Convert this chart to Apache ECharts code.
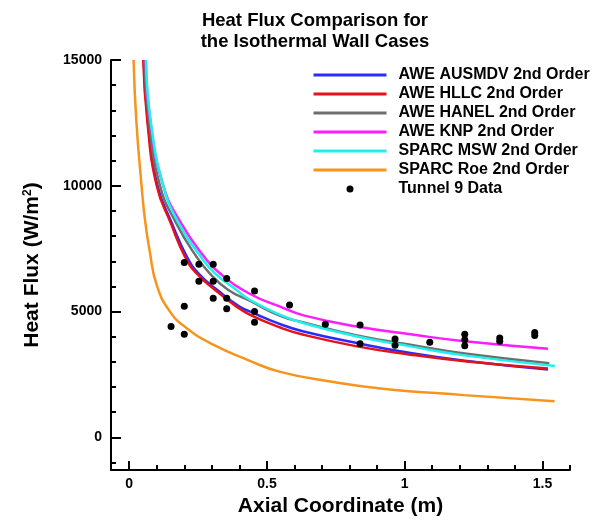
<!DOCTYPE html>
<html>
<head>
<meta charset="utf-8">
<script src="https://cdn.jsdelivr.net/npm/echarts@6/dist/echarts.min.js"></script>
<style>
html,body{margin:0;padding:0;background:#fff;}
#chart{width:601px;height:522px;}
</style>
</head>
<body>
<div id="chart"></div>
<script>
// ---- data ----
const seriesNames = ['AWE AUSMDV 2nd Order','AWE HLLC 2nd Order','AWE HANEL 2nd Order','AWE KNP 2nd Order','SPARC MSW 2nd Order','SPARC Roe 2nd Order'];
const pointsName = 'Tunnel 9 Data';

const ausmdv = [[0.053,15000],[0.068,12565],[0.103,10000],[0.156,8486],[0.21,7170],[0.252,6513],[0.32,5855],[0.40,5197],[0.439,5000],[0.548,4500],[0.633,4211],[0.827,3750],[1.021,3355],[1.218,3050],[1.52,2697]];
const hllc = [[0.051,15000],[0.066,12565],[0.10,10000],[0.152,8486],[0.203,7170],[0.245,6513],[0.312,5855],[0.39,5197],[0.439,4868],[0.548,4368],[0.633,4079],[0.827,3618],[1.021,3289],[1.218,3030],[1.52,2735]];
const hanel = [[0.055,15000],[0.072,12565],[0.112,10000],[0.172,8486],[0.245,7170],[0.293,6513],[0.36,5855],[0.439,5421],[0.548,4830],[0.633,4565],[0.827,4050],[1.021,3680],[1.218,3330],[1.525,2947]];
const knp = [[0.06,15000],[0.077,12565],[0.124,10000],[0.19,8486],[0.273,7170],[0.33,6513],[0.439,5700],[0.548,5197],[0.633,4850],[0.827,4408],[1.021,4100],[1.218,3820],[1.52,3525]];
const msw = [[0.061,15000],[0.078,12565],[0.124,10000],[0.181,8486],[0.261,7170],[0.312,6513],[0.39,5855],[0.439,5460],[0.548,4868],[0.633,4539],[0.827,4013],[1.021,3618],[1.218,3260],[1.545,2842]];
const roe = [[0.016,15000],[0.026,12565],[0.045,10000],[0.057,8684],[0.075,7368],[0.1,6052],[0.148,5000],[0.209,4342],[0.305,3683],[0.427,3092],[0.548,2605],[0.742,2200],[0.912,1947],[1.215,1680],[1.544,1434]];
const tunnel9 = [[0.152,4410],[0.2,6950],[0.2,5210],[0.2,4100],[0.253,6880],[0.253,6210],[0.305,6880],[0.305,6210],[0.305,5530],[0.354,6320],[0.354,5530],[0.354,5110],[0.455,5820],[0.455,5000],[0.455,4580],[0.582,5260],[0.712,4500],[0.838,4470],[0.838,3720],[0.965,3910],[0.965,3660],[1.091,3780],[1.218,4100],[1.218,3880],[1.218,3640],[1.345,3950],[1.345,3820],[1.472,4170],[1.472,4050]];

const xMajorTicks = [0, 0.5, 1, 1.5];
const xMinorTicks = [0.1,0.2,0.3,0.4,0.6,0.7,0.8,0.9,1.1,1.2,1.3,1.4,1.6];
const yMajorTicks = [0, 5000, 10000, 15000];
const yMinorTicks = [-1000,1000,2000,3000,4000,6000,7000,8000,9000,11000,12000,13000,14000];

const X_MIN = -0.066, X_MAX = 1.6, Y_MIN = -1300, Y_MAX = 15000;

// ---- styles ----
const FONT = '"Liberation Sans", Arial, Helvetica, sans-serif';
const colors = ['#2b2bff', '#e3121b', '#6e6e6e', '#ff1cff', '#1ef0f0', '#f7941d'];
const lineData = [ausmdv, hllc, hanel, knp, msw, roe];
const DOT_ICON = 'path://M0,0M73,14M33,7a3.5,3.5 0 1,0 7,0a3.5,3.5 0 1,0 -7,0Z';

const tickStyle = {color:'#000', width:2};
const chart = echarts.init(document.getElementById('chart'), null, {renderer:'canvas'});

const series = lineData.map((d, i) => ({
  name: seriesNames[i], type:'line', data:d, symbol:'none', showSymbol:false,
  smooth:0.5,
  lineStyle:{color:colors[i], width:2.5}, itemStyle:{color:colors[i]},
  xAxisIndex:0, yAxisIndex:0, z:2
}));
series.push({
  name: pointsName, type:'scatter', data:tunnel9, symbol:'circle', symbolSize:7,
  itemStyle:{color:'#000', opacity:1}, xAxisIndex:0, yAxisIndex:0, z:3
});

const legendData = seriesNames.map((n, i) => ({name:n, itemStyle:{opacity:0}, lineStyle:{color:colors[i], width:3, opacity:1}}));
legendData.push({name:pointsName, icon:DOT_ICON});

const option = {
  backgroundColor:'#fff',
  animation:false,
  textStyle:{fontFamily:FONT},
  title:{
    text:'Heat Flux Comparison for\nthe Isothermal Wall Cases',
    left:315, top:10, padding:0, textAlign:'center',
    textStyle:{fontFamily:FONT, fontSize:18.5, fontWeight:'bold', color:'#000', lineHeight:21}
  },
  grid:{left:111, right:31, top:60, bottom:49, containLabel:false},
  legend:{
    orient:'vertical', left:312, top:67, padding:0,
    itemWidth:73, itemHeight:14, itemGap:3,
    data:legendData,
    textStyle:{fontFamily:FONT, fontSize:16, fontWeight:'bold', color:'#000', padding:[0,0,0,7]}
  },
  xAxis:[{
    type:'value', min:X_MIN, max:X_MAX, position:'bottom',
    name:'Axial Coordinate (m)', nameLocation:'middle', nameGap:24,
    nameTextStyle:{fontFamily:FONT, fontSize:21, fontWeight:'bold', color:'#000'},
    axisLine:{show:true, onZero:false, lineStyle:tickStyle},
    axisTick:{show:true, inside:true, length:9, lineStyle:tickStyle, customValues:xMajorTicks},
    axisLabel:{show:true, customValues:xMajorTicks, margin:7, fontFamily:FONT, fontSize:14, fontWeight:'bold', color:'#000', formatter:v=>String(v)},
    splitLine:{show:false}
  },{
    type:'value', min:X_MIN, max:X_MAX, position:'bottom',
    axisLine:{show:false, onZero:false},
    axisTick:{show:true, inside:true, length:5, lineStyle:tickStyle, customValues:xMinorTicks},
    axisLabel:{show:false}, splitLine:{show:false}
  }],
  yAxis:[{
    type:'value', min:Y_MIN, max:Y_MAX, position:'left',
    name:'Heat Flux (W/m{sup|2})', nameLocation:'middle', nameGap:68,
    nameTextStyle:{fontFamily:FONT, fontSize:21, fontWeight:'bold', color:'#000',
      rich:{sup:{fontFamily:FONT, fontSize:12, fontWeight:'bold', color:'#000', verticalAlign:'top'}}},
    axisLine:{show:true, onZero:false, lineStyle:tickStyle},
    axisTick:{show:true, inside:true, length:10, lineStyle:tickStyle, customValues:yMajorTicks},
    axisLabel:{show:true, customValues:yMajorTicks, margin:9, fontFamily:FONT, fontSize:14, fontWeight:'bold', color:'#000', formatter:v=>String(v)},
    splitLine:{show:false}
  },{
    type:'value', min:Y_MIN, max:Y_MAX, position:'left',
    axisLine:{show:false, onZero:false},
    axisTick:{show:true, inside:true, length:5, lineStyle:tickStyle, customValues:yMinorTicks},
    axisLabel:{show:false}, splitLine:{show:false}
  }],
  series: series
};
chart.setOption(option);
</script>
</body>
</html>
